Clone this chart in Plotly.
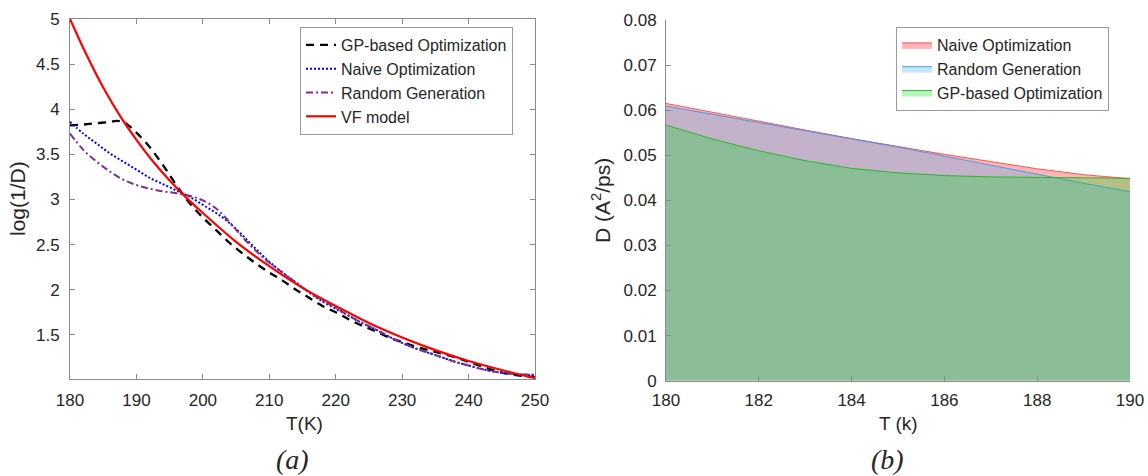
import plotly.graph_objects as go

# ---------------- data: panel (a) ----------------
T_gp = [180, 182, 184, 186, 187, 188, 189, 190, 192, 194, 196, 198, 200, 202, 204, 206, 208,
        210, 212, 214, 216, 218, 220, 222, 224, 226, 228, 230, 232, 234, 236, 238,
        240, 242, 244, 246, 248, 250]
gp_opt = [3.82, 3.83, 3.845, 3.86, 3.87, 3.86, 3.81, 3.74, 3.58, 3.38, 3.16, 2.96, 2.80, 2.66, 2.52,
          2.40, 2.29, 2.19, 2.10, 2.00, 1.91, 1.82, 1.75, 1.67, 1.60, 1.54, 1.47, 1.42, 1.37, 1.33,
          1.29, 1.25, 1.20, 1.15, 1.10, 1.065, 1.045, 1.03]
T_a = [180, 182, 184, 186, 188, 190, 192, 194, 196, 198, 200, 202, 204, 206, 208,
       210, 212, 214, 216, 218, 220, 222, 224, 226, 228, 230, 232, 234, 236, 238,
       240, 242, 244, 246, 248, 250]
naive_opt = [3.86, 3.73, 3.62, 3.51, 3.42, 3.33, 3.24, 3.17, 3.10, 3.03, 2.94, 2.85, 2.74, 2.60, 2.45,
             2.31, 2.19, 2.08, 1.97, 1.87, 1.79, 1.71, 1.63, 1.56, 1.48, 1.41, 1.35, 1.30, 1.25, 1.20,
             1.16, 1.12, 1.09, 1.07, 1.06, 1.05]
random_gen = [3.73, 3.55, 3.42, 3.31, 3.22, 3.16, 3.12, 3.09, 3.07, 3.04, 2.99, 2.90, 2.75, 2.58, 2.43,
              2.30, 2.19, 2.08, 1.97, 1.88, 1.80, 1.71, 1.63, 1.56, 1.48, 1.41, 1.35, 1.30, 1.25, 1.20,
              1.16, 1.12, 1.09, 1.07, 1.06, 1.06]
T_vf = [180, 182.5, 185, 187.5, 190, 192.5, 195, 197.5, 200, 205, 210, 215, 220, 225, 230,
        235, 240, 245, 250]
vf_model = [5.00, 4.60, 4.24, 3.93, 3.66, 3.42, 3.21, 3.02, 2.85, 2.53, 2.26, 2.02, 1.82, 1.63, 1.47,
            1.33, 1.21, 1.11, 1.02]

# ---------------- data: panel (b) ----------------
T_b = [180, 181, 182, 183, 184, 185, 186, 187, 188, 189, 190]
D_naive = [0.0615, 0.0595, 0.0575, 0.0556, 0.0537, 0.0519, 0.0502, 0.0486, 0.0470, 0.0457, 0.0448]
D_random = [0.0609, 0.0591, 0.0573, 0.0555, 0.0536, 0.0518, 0.0498, 0.0478, 0.0457, 0.0438, 0.0419]
D_gp = [0.0567, 0.0536, 0.0510, 0.0488, 0.0471, 0.0461, 0.0455, 0.0452, 0.0451, 0.0450, 0.0449]

W, H = 1148, 476
FONT = "Liberation Sans, Arial, Helvetica, sans-serif"
TXT = "#262626"
AX = "#8a8a8a"

fig = go.Figure()

# panel (a) lines
fig.add_trace(go.Scatter(x=T_gp, y=gp_opt, name="GP-based Optimization", mode="lines",
                         line=dict(color="black", width=2.3, dash="8px,6px", shape="spline"),
                         xaxis="x", yaxis="y", legend="legend"))
fig.add_trace(go.Scatter(x=T_a, y=naive_opt, name="Naive Optimization", mode="lines",
                         line=dict(color="#0000FF", width=2, dash="2px,2px", shape="spline"),
                         xaxis="x", yaxis="y", legend="legend"))
fig.add_trace(go.Scatter(x=T_a, y=random_gen, name="Random Generation", mode="lines",
                         line=dict(color="#7E2F8E", width=2, dash="7px,3px,2px,3px", shape="spline"),
                         xaxis="x", yaxis="y", legend="legend"))
fig.add_trace(go.Scatter(x=T_vf, y=vf_model, name="VF model", mode="lines",
                         line=dict(color="#FF0000", width=2.2, shape="spline"),
                         xaxis="x", yaxis="y", legend="legend"))

# panel (b) areas
fig.add_trace(go.Scatter(x=T_b, y=D_naive, name="Naive Optimization", mode="lines",
                         fill="tozeroy", fillcolor="rgba(255,0,0,0.29)",
                         line=dict(color="rgba(255,60,60,0.85)", width=1),
                         xaxis="x2", yaxis="y2", legend="legend2"))
fig.add_trace(go.Scatter(x=T_b, y=D_random, name="Random Generation", mode="lines",
                         fill="tozeroy", fillcolor="rgba(52,171,255,0.29)",
                         line=dict(color="rgba(60,150,235,0.9)", width=1),
                         xaxis="x2", yaxis="y2", legend="legend2"))
fig.add_trace(go.Scatter(x=T_b, y=D_gp, name="GP-based Optimization", mode="lines",
                         fill="tozeroy", fillcolor="rgba(0,219,25,0.29)",
                         line=dict(color="rgba(30,180,30,0.9)", width=1),
                         xaxis="x2", yaxis="y2", legend="legend2"))

axis_common = dict(showgrid=False, zeroline=False, showline=True, linecolor=AX, linewidth=1,
                   ticks="inside", ticklen=5, tickcolor=AX, tickwidth=1, automargin=False,
                   tickangle=0,
                   tickfont=dict(family=FONT, size=17, color=TXT))

fig.update_layout(
    width=W, height=H,
    margin=dict(l=0, r=0, t=0, b=0, autoexpand=False),
    paper_bgcolor="white", plot_bgcolor="white",
    xaxis=dict(domain=[70 / W, 535 / W], range=[180, 250], dtick=10, tick0=180,
               mirror="ticks", anchor="y", ticklabelstandoff=6, **axis_common),
    yaxis=dict(domain=[1 - 379 / H, 1 - 19 / H], range=[1.01, 5], dtick=0.5, tick0=1.5,
               mirror="ticks", anchor="x", ticklabelstandoff=6, **axis_common),
    xaxis2=dict(domain=[666 / W, 1130 / W], range=[180, 190], dtick=2, tick0=180,
                anchor="y2", ticklabelstandoff=4, **axis_common),
    yaxis2=dict(domain=[1 - 380.7 / H, 1 - 20 / H], range=[0, 0.08], dtick=0.01, tick0=0,
                anchor="x2", ticklabelstandoff=5, **axis_common),
    legend=dict(xref="paper", yref="paper", x=300 / W, y=1 - 27 / H,
                xanchor="left", yanchor="top", bgcolor="white", bordercolor="#9a9a9a",
                borderwidth=1, font=dict(family=FONT, size=16, color=TXT),
                tracegroupgap=0),
    legend2=dict(xref="paper", yref="paper", x=896 / W, y=1 - 27 / H,
                 xanchor="left", yanchor="top", bgcolor="white", bordercolor="#9a9a9a",
                 borderwidth=1, font=dict(family=FONT, size=16, color=TXT),
                 tracegroupgap=0),
    showlegend=True,
)

ann = [
    dict(text="T(K)", x=304 / W, y=1 - 423 / H, textangle=0, size=19, family=FONT),
    dict(text="log(1/D)", x=17 / W, y=1 - 199 / H, textangle=-90, size=21, family=FONT),
    dict(text="T (k)", x=898 / W, y=1 - 423 / H, textangle=0, size=19, family=FONT),
    dict(text="D (A<sup>2</sup>/ps)", x=601 / W, y=1 - 201 / H, textangle=-90, size=21, family=FONT),
    dict(text="<i>(a)</i>", x=292 / W, y=1 - 459 / H, textangle=0, size=28,
         family="Liberation Serif, Times New Roman, serif"),
    dict(text="<i>(b)</i>", x=887 / W, y=1 - 459 / H, textangle=0, size=28,
         family="Liberation Serif, Times New Roman, serif"),
]
for a in ann:
    fig.add_annotation(text=a["text"], x=a["x"], y=a["y"], xref="paper", yref="paper",
                       showarrow=False, textangle=a["textangle"], xanchor="center", yanchor="middle",
                       font=dict(family=a["family"], size=a["size"], color=TXT))

fig.write_html("out.html")
